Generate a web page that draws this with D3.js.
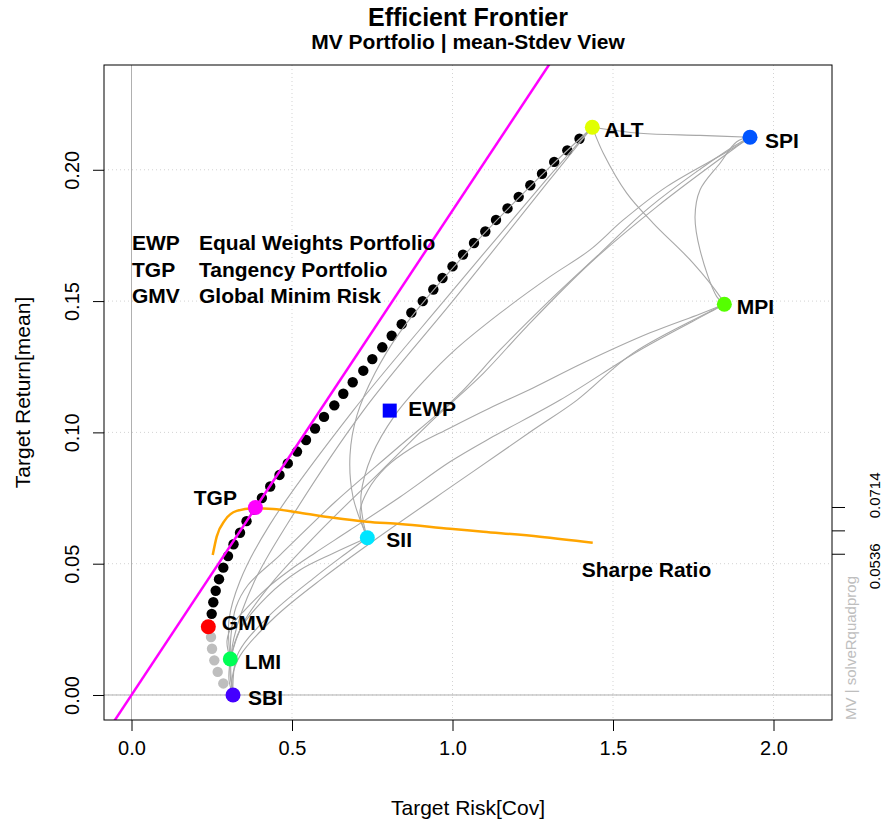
<!DOCTYPE html>
<html>
<head>
<meta charset="utf-8">
<script src="https://cdn.jsdelivr.net/npm/d3@7"></script>
<style>
  body { margin: 0; background: #fff; }
  svg { display: block; font-family: "Liberation Sans", Arial, sans-serif; }
</style>
</head>
<body>
<svg id="chart" width="883" height="827"></svg>
<script>
// ── Data ───────────────────────────────────────────────────
const assetNames  = ['SBI', 'SPI', 'SII', 'LMI', 'MPI', 'ALT'];
const assetRisk   = [0.3162, 1.9268, 0.7346, 0.3078, 1.8468, 1.4355];
const assetReturn = [0.0000, 0.2124, 0.0599, 0.0137, 0.1488, 0.2162];
const assetColors = ['#4400FF', '#0055FF', '#00E5FF', '#00FF55', '#55FF00', '#E1FF00'];

const frontierReturn = [
  0.0000, 0.0044, 0.0088, 0.0132, 0.0176, 0.0221, 0.0265, 0.0309, 0.0353, 0.0397,
  0.0441, 0.0485, 0.0529, 0.0574, 0.0618, 0.0662, 0.0706, 0.0750, 0.0794, 0.0838,
  0.0882, 0.0927, 0.0971, 0.1015, 0.1059, 0.1103, 0.1147, 0.1191, 0.1235, 0.1279,
  0.1324, 0.1368, 0.1412, 0.1456, 0.1500, 0.1544, 0.1588, 0.1632, 0.1677, 0.1721,
  0.1765, 0.1809, 0.1853, 0.1897, 0.1941, 0.1985, 0.2030, 0.2074, 0.2118, 0.2162];
const frontierRisk = [
  0.3100, 0.2860, 0.2685, 0.2579, 0.2508, 0.2477, 0.2430, 0.2498, 0.2548, 0.2623,
  0.2726, 0.2860, 0.3006, 0.3178, 0.3380, 0.3583, 0.3816, 0.4062, 0.4321, 0.4611,
  0.4869, 0.5156, 0.5436, 0.5717, 0.5997, 0.6318, 0.6598, 0.6891, 0.7221, 0.7502,
  0.7813, 0.8106, 0.8417, 0.8717, 0.9072, 0.9402, 0.9688, 1.0000, 1.0327, 1.0670,
  1.1022, 1.1355, 1.1713, 1.2062, 1.2424, 1.2788, 1.3168, 1.3576, 1.3956, 1.4355];

const specialNames  = ['GMV', 'TGP', 'EWP'];
const specialRisk   = [0.2393, 0.3860, 0.8044];
const specialReturn = [0.0260, 0.0714, 0.1083];

const tangentSlope = 0.1845;   // capital market line through origin

const sharpeRisk  = [0.2530, 0.2654, 0.2913, 0.3277, 0.3794, 0.4417, 0.5249, 0.6287,
                     0.7327, 0.8364, 0.9922, 1.0960, 1.2726, 1.4368];
const sharpeValue = [0.0533, 0.0603, 0.0666, 0.0701, 0.0711, 0.0708, 0.0694, 0.0675,
                     0.0660, 0.0651, 0.0633, 0.0622, 0.0603, 0.0580];
const sharpeRange = [0.0536, 0.0714];

// two-asset frontiers, [risk, return]
const lineAltSpi = [[1.4355,0.2162],[1.5841,0.2139],[1.7710,0.2131],[1.9268,0.2124]];
const lineAltMpi = [[1.4355,0.2162],[1.4386,0.2152],[1.4698,0.2063],[1.5427,0.1911],[1.6255,0.1796],
                    [1.7502,0.1644],[1.8333,0.1517],[1.8468,0.1488]];
const lineSpiMpi = [[1.9268,0.2124],[1.8854,0.2107],[1.8333,0.2025],[1.7710,0.1923],[1.7555,0.1821],
                    [1.7710,0.1695],[1.8231,0.1517],[1.8468,0.1488]];
const lineAltSii = [[1.4355,0.2162],[1.3006,0.2007],[1.0514,0.1695],[0.8364,0.1382],[0.7586,0.1226],
                    [0.7025,0.1066],[0.6807,0.0914],[0.6900,0.0754],[0.7346,0.0599]];
const lineAltLmi = [[1.4355,0.2162],[1.2810,0.1946],[0.9813,0.1512],[0.6891,0.1081],[0.4299,0.0647],
                    [0.3380,0.0434],[0.3037,0.0286],[0.3078,0.0137]];
const lineAltSbi = [[1.4355,0.2162],[1.2925,0.1946],[1.0093,0.1513],[0.7212,0.1081],[0.4844,0.0649],
                    [0.3826,0.0432],[0.3187,0.0216],[0.3090,0.0108],[0.3162,0.0000]];
const lineSpiSii = [[1.9268,0.2124],[1.8645,0.2075],[1.6673,0.1936],[1.5321,0.1809],[1.4283,0.1695],
                    [1.3037,0.1593],[1.1480,0.1454],[1.0078,0.1314],[0.9143,0.1200],[0.8209,0.1066],
                    [0.7492,0.0914],[0.7150,0.0762],[0.7212,0.0666],[0.7346,0.0599]];
const lineSpiLmi = [[1.9268,0.2124],[1.8738,0.2088],[1.6153,0.1859],[1.4595,0.1682],[1.3037,0.1504],
                    [1.1480,0.1314],[1.0131,0.1136],[0.8209,0.0933],[0.6340,0.0735],[0.4626,0.0533],
                    [0.3629,0.0419],[0.3255,0.0335],[0.3100,0.0228],[0.3078,0.0137]];
const lineSpiSbi = [[1.9268,0.2124],[1.8854,0.2088],[1.6361,0.1859],[1.4283,0.1644],[1.2312,0.1403],
                    [1.0960,0.1225],[0.9455,0.1055],[0.7741,0.0849],[0.5966,0.0636],[0.4377,0.0427],
                    [0.3536,0.0286],[0.3255,0.0209],[0.3069,0.0107],[0.3162,0.0000]];
const lineMpiSii = [[1.8468,0.1488],[1.7710,0.1451],[1.6153,0.1379],[1.4065,0.1264],[1.2508,0.1169],
                    [1.1168,0.1093],[0.9922,0.1017],[0.8676,0.0937],[0.7928,0.0868],
                    [0.7368,0.0781],[0.7118,0.0697],[0.7346,0.0599]];
const lineMpiSbi = [[1.8468,0.1488],[1.8115,0.1466],[1.5623,0.1302],[1.3879,0.1123],[1.2508,0.1009],
                    [1.0265,0.0819],[0.7617,0.0594],[0.5966,0.0446],[0.4470,0.0297],[0.3380,0.0149],
                    [0.3146,0.0072],[0.3162,0.0000]];
const lineMpiLmi = [[1.8468,0.1488],[1.8022,0.1458],[1.5841,0.1314],[1.3349,0.1123],[1.1262,0.0984],
                    [0.9922,0.0888],[0.8364,0.0754],[0.6807,0.0628],[0.5717,0.0541],[0.4938,0.0476],
                    [0.4221,0.0407],[0.3536,0.0324],[0.3162,0.0270],[0.2975,0.0206],[0.3078,0.0137]];
const lineSiiSbi = [[0.7346,0.0599],[0.6682,0.0539],[0.5717,0.0449],[0.4283,0.0301],[0.3287,0.0149],
                    [0.3162,0.0000]];
const lineSiiLmi = [[0.7346,0.0599],[0.6287,0.0540],[0.5249,0.0476],[0.4212,0.0374],[0.3380,0.0248],
                    [0.3078,0.0137]];
const lineSbiLmi = [[0.3162,0.0000],[0.3037,0.0057],[0.3078,0.0137]];

const twoAssetLines = [lineAltSpi, lineAltMpi, lineSpiMpi, lineAltSii, lineAltLmi, lineAltSbi,
                       lineSpiSii, lineSpiLmi, lineSpiSbi, lineMpiSii, lineMpiSbi, lineMpiLmi,
                       lineSiiSbi, lineSiiLmi, lineSbiLmi];

const xTicks = [0.0, 0.5, 1.0, 1.5, 2.0];
const yTicks = [0.00, 0.05, 0.10, 0.15, 0.20];

const legendKeys  = ['EWP', 'TGP', 'GMV'];
const legendTexts = ['Equal Weights Portfolio', 'Tangency Portfolio', 'Global Minim Risk'];

// ── Layout ─────────────────────────────────────────────────
const box = { left: 104, right: 832, top: 65, bottom: 720 };
const x = d3.scaleLinear().domain([-0.0857, 2.1822]).range([box.left, box.right]);
const y = d3.scaleLinear().domain([-0.00952, 0.2399]).range([box.bottom, box.top]);

const svg = d3.select('#chart');
svg.append('defs').append('clipPath').attr('id', 'plot-clip')
  .append('rect')
  .attr('x', box.left).attr('y', box.top)
  .attr('width', box.right - box.left).attr('height', box.bottom - box.top);

const plot = svg.append('g').attr('clip-path', 'url(#plot-clip)');

// ── Grid ───────────────────────────────────────────────────
plot.append('g').selectAll('line').data(xTicks).join('line')
  .attr('x1', d => x(d)).attr('x2', d => x(d))
  .attr('y1', box.top).attr('y2', box.bottom)
  .attr('stroke', '#d3d3d3').attr('stroke-dasharray', '1,3');
plot.append('g').selectAll('line').data(yTicks).join('line')
  .attr('x1', box.left).attr('x2', box.right)
  .attr('y1', d => y(d)).attr('y2', d => y(d))
  .attr('stroke', '#d3d3d3').attr('stroke-dasharray', '1,3');

// zero lines
plot.append('line')
  .attr('x1', x(0)).attr('x2', x(0)).attr('y1', box.top).attr('y2', box.bottom)
  .attr('stroke', '#b0b0b0');
plot.append('line')
  .attr('x1', box.left).attr('x2', box.right).attr('y1', y(0)).attr('y2', y(0))
  .attr('stroke', '#b0b0b0');

// ── Frontier points ────────────────────────────────────────
const gmvReturn = specialReturn[0];
plot.append('g').selectAll('circle').data(frontierRisk).join('circle')
  .attr('cx', d => x(d))
  .attr('cy', (d, i) => y(frontierReturn[i]))
  .attr('r', 5.2)
  .attr('fill', (d, i) => frontierReturn[i] >= gmvReturn - 0.001 ? '#000' : '#bebebe');

// ── Tangency line ──────────────────────────────────────────
const xDom = x.domain();
plot.append('line')
  .attr('x1', x(xDom[0])).attr('y1', y(xDom[0] * tangentSlope))
  .attr('x2', x(xDom[1])).attr('y2', y(xDom[1] * tangentSlope))
  .attr('stroke', '#ff00ff').attr('stroke-width', 2.5);

// ── Two-asset frontiers ────────────────────────────────────
const pairLine = d3.line()
  .x(d => x(d[0])).y(d => y(d[1]))
  .curve(d3.curveCatmullRom.alpha(0.5));
plot.append('g').selectAll('path').data(twoAssetLines).join('path')
  .attr('d', pairLine)
  .attr('fill', 'none')
  .attr('stroke', '#a8a8a8')
  .attr('stroke-width', 1.1);

// ── Sharpe ratio line ──────────────────────────────────────
plot.append('path')
  .datum(sharpeRisk.map((r, i) => [r, sharpeValue[i]]))
  .attr('d', d3.line().x(d => x(d[0])).y(d => y(d[1])).curve(d3.curveMonotoneX))
  .attr('fill', 'none')
  .attr('stroke', '#ffa500')
  .attr('stroke-width', 2.5);

// ── Asset points ───────────────────────────────────────────
plot.append('g').selectAll('circle').data(assetNames).join('circle')
  .attr('cx', (d, i) => x(assetRisk[i]))
  .attr('cy', (d, i) => y(assetReturn[i]))
  .attr('r', 7.5)
  .attr('fill', (d, i) => assetColors[i]);

// special portfolios
plot.append('circle')
  .attr('cx', x(specialRisk[0])).attr('cy', y(specialReturn[0])).attr('r', 7.5).attr('fill', '#ff0000');
plot.append('circle')
  .attr('cx', x(specialRisk[1])).attr('cy', y(specialReturn[1])).attr('r', 7.5).attr('fill', '#ff00ff');
plot.append('rect')
  .attr('x', x(specialRisk[2]) - 7).attr('y', y(specialReturn[2]) - 7)
  .attr('width', 14).attr('height', 14).attr('fill', '#0000ff');

// ── Point labels ───────────────────────────────────────────
const labelFont = 21;
const capShift = labelFont * 0.358;
const assetLabelOffset = {
  SBI: [15, 2], SPI: [15, 3], SII: [19, 2], LMI: [14.5, 2.5], MPI: [12.5, 2], ALT: [12, 2.5]
};
svg.append('g').selectAll('text').data(assetNames).join('text')
  .attr('x', (d, i) => x(assetRisk[i]) + assetLabelOffset[d][0])
  .attr('y', (d, i) => y(assetReturn[i]) + assetLabelOffset[d][1] + capShift)
  .attr('font-size', labelFont).attr('font-weight', 'bold')
  .text(d => d);

const specialLabelOffset = { GMV: [13.5, -4.5, 'start'], TGP: [-18.5, -10, 'end'], EWP: [18.5, -2.5, 'start'] };
svg.append('g').selectAll('text').data(specialNames).join('text')
  .attr('x', (d, i) => x(specialRisk[i]) + specialLabelOffset[d][0])
  .attr('y', (d, i) => y(specialReturn[i]) + specialLabelOffset[d][1] + capShift)
  .attr('text-anchor', d => specialLabelOffset[d][2])
  .attr('font-size', labelFont).attr('font-weight', 'bold')
  .text(d => d);

// Sharpe ratio label near end of curve
svg.append('text')
  .attr('x', x(sharpeRisk[sharpeRisk.length - 1]) - 11)
  .attr('y', 569 + capShift)
  .attr('font-size', labelFont).attr('font-weight', 'bold')
  .text('Sharpe Ratio');

// ── Legend ─────────────────────────────────────────────────
const legend = svg.append('g').attr('font-size', 21).attr('font-weight', 'bold');
legendKeys.forEach((k, i) => {
  legend.append('text').attr('x', 132).attr('y', 250 + i * 26.7).text(k);
  legend.append('text').attr('x', 199).attr('y', 250 + i * 26.7).text(legendTexts[i]);
});

// ── Box and axes ───────────────────────────────────────────
svg.append('rect')
  .attr('x', box.left).attr('y', box.top)
  .attr('width', box.right - box.left).attr('height', box.bottom - box.top)
  .attr('fill', 'none').attr('stroke', '#000');

const xAxis = svg.append('g')
  .attr('transform', `translate(0,${box.bottom})`)
  .call(d3.axisBottom(x).tickValues(xTicks).tickFormat(d3.format('.1f')).tickSize(11).tickPadding(10));
xAxis.select('.domain').remove();
xAxis.selectAll('text').attr('font-size', 20).attr('font-family', null).attr('fill', '#000');

const yAxis = svg.append('g')
  .attr('transform', `translate(${box.left},0)`)
  .call(d3.axisLeft(y).tickValues(yTicks).tickFormat(d3.format('.2f')).tickSize(11));
yAxis.select('.domain').remove();
yAxis.selectAll('text')
  .attr('x', null).attr('dy', null)
  .attr('transform', 'translate(-32,0) rotate(-90)')
  .attr('text-anchor', 'middle')
  .attr('dominant-baseline', 'central')
  .attr('font-size', 20).attr('font-family', null).attr('fill', '#000');

// right axis: Sharpe ratio range
const sharpeTicks = [sharpeRange[0], (sharpeRange[0] + sharpeRange[1]) / 2, sharpeRange[1]];
svg.append('g').selectAll('line').data(sharpeTicks).join('line')
  .attr('x1', box.right).attr('x2', box.right + 13)
  .attr('y1', d => y(d)).attr('y2', d => y(d))
  .attr('stroke', '#000');
svg.append('text')
  .attr('transform', `translate(874,${y(sharpeTicks[1])}) rotate(-90)`)
  .attr('text-anchor', 'middle')
  .attr('dominant-baseline', 'central')
  .attr('font-size', 15)
  .style('white-space', 'pre')
  .text(`${sharpeRange[0].toFixed(4)}      ${sharpeRange[1].toFixed(4)}`);

svg.append('text')
  .attr('transform', `translate(850,${box.bottom}) rotate(-90)`)
  .attr('dominant-baseline', 'central')
  .attr('font-size', 15)
  .attr('fill', '#bebebe')
  .text('MV | solveRquadprog');

// ── Titles ─────────────────────────────────────────────────
const midX = (box.left + box.right) / 2;
svg.append('text').attr('x', midX).attr('y', 26).attr('text-anchor', 'middle')
  .attr('font-size', 25).attr('font-weight', 'bold').text('Efficient Frontier');
svg.append('text').attr('x', midX).attr('y', 49).attr('text-anchor', 'middle')
  .attr('font-size', 21).attr('font-weight', 'bold').text('MV Portfolio | mean-Stdev View');
svg.append('text').attr('x', midX).attr('y', 815).attr('text-anchor', 'middle')
  .attr('font-size', 21).text('Target Risk[Cov]');
svg.append('text')
  .attr('transform', `translate(22,${(box.top + box.bottom) / 2}) rotate(-90)`)
  .attr('text-anchor', 'middle').attr('dominant-baseline', 'central')
  .attr('font-size', 21).text('Target Return[mean]');
</script>
</body>
</html>
